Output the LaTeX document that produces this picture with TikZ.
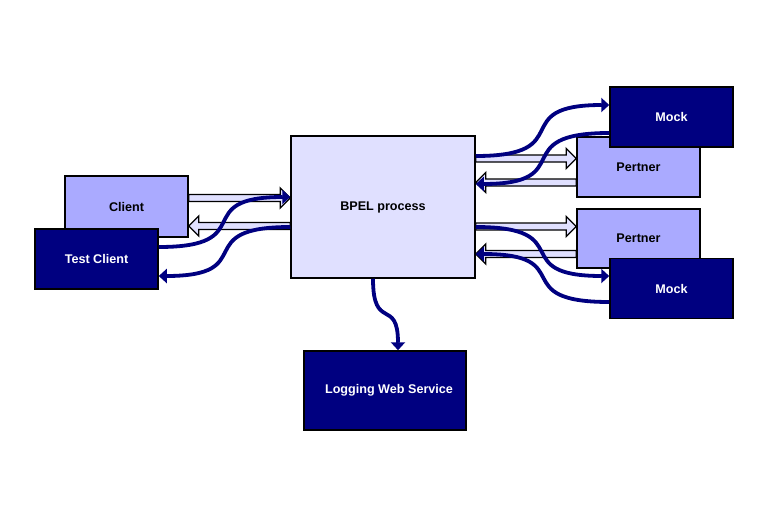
\documentclass[tikz,border=0pt]{standalone}
\usepackage{fontspec}
\setmainfont{Liberation Sans}
\usetikzlibrary{arrows.meta,calc}
\definecolor{navy}{RGB}{0,0,128}
\definecolor{lightbox}{RGB}{170,170,255}
\definecolor{paleb}{RGB}{224,224,255}
\tikzset{
 box/.style={draw=black, line width=1.5pt, inner sep=0pt, font=\bfseries\fontsize{12.6}{14}\selectfont},
 lbox/.style={box, fill=lightbox, text=black},
 dbox/.style={box, fill=navy, text=white},
 hollow/.style={draw=black, fill=paleb, line width=1.3pt, line join=miter},
 bluearr/.style={draw=navy, line width=3.8pt, -{Triangle[length=8pt,width=14pt]}},
}
\newcommand{\hollowarr}[2]{%
  \filldraw[hollow] let \p1=(#1), \p2=(#2), \n1={ifthenelse(\x2>\x1,1,-1)} in
   ({\x1},{\y1+3.5pt}) -- ({\x2-(\n1)*10pt},{\y1+3.5pt}) -- ({\x2-(\n1)*10pt},{\y1+10pt})
   -- ({\x2},{\y1}) -- ({\x2-(\n1)*10pt},{\y1-10pt}) -- ({\x2-(\n1)*10pt},{\y1-3.5pt})
   -- ({\x1},{\y1-3.5pt}) -- cycle;}
\newcommand{\hcurve}[2]{%
  \draw[bluearr] let \p1=(#1), \p2=(#2) in (\p1) .. controls ({0.22*\x1+0.78*\x2},{\y1}) and ({0.78*\x1+0.22*\x2},{\y2}) .. (\p2);}
\newcommand{\vcurve}[2]{%
  \draw[bluearr] let \p1=(#1), \p2=(#2) in (\p1) .. controls ({\x1},{0.25*\y1+0.75*\y2}) and ({\x2},{0.75*\y1+0.25*\y2}) .. (\p2);}
\begin{document}
\begin{tikzpicture}[x=1pt,y=-1pt]
\fill[white] (0,0) rectangle (768,517);
\useasboundingbox (0,0) rectangle (768,517);
% boxes
\node[lbox, minimum width=123pt, minimum height=61pt] (client) at (126.5,206.5) {Client};
\node[dbox, minimum width=123pt, minimum height=60pt] (tc) at (96.5,259) {Test Client};
\node[box, fill=paleb, minimum width=184pt, minimum height=142pt] (bpel) at (383,207) {BPEL process};
\node[lbox, minimum width=123pt, minimum height=60pt] (pert1) at (638.5,167) {Pertner};
\node[dbox, minimum width=123pt, minimum height=60pt] (mock1) at (671.5,117) {Mock};
\node[lbox, minimum width=123pt, minimum height=59pt] (pert2) at (638.5,238.5) {Pertner};
\node[dbox, minimum width=123pt, minimum height=60pt] (mock2) at (671.5,288.5) {Mock};
\node[dbox, minimum width=162pt, minimum height=79pt] (log) at (385,390.5) {\hspace*{8pt}Logging Web Service};
% hollow arrows
\hollowarr{client.east |- 0,198}{bpel.west |- 0,198}
\hollowarr{bpel.west |- 0,226}{client.east |- 0,226}
\hollowarr{bpel.east |- 0,158.5}{pert1.west |- 0,158.5}
\hollowarr{pert1.west |- 0,182.5}{bpel.east |- 0,182.5}
\hollowarr{bpel.east |- 0,226.5}{pert2.west |- 0,226.5}
\hollowarr{pert2.west |- 0,254}{bpel.east |- 0,254}
% blue curves
\hcurve{tc.east |- 0,247}{bpel.west |- 0,197}
\hcurve{bpel.west |- 0,227}{tc.east |- 0,276}
\hcurve{bpel.east |- 0,156}{mock1.west |- 0,105}
\hcurve{mock1.west |- 0,133}{bpel.east |- 0,184}
\hcurve{bpel.east |- 0,227}{mock2.west |- 0,276}
\hcurve{mock2.west |- 0,302}{bpel.east |- 0,254}
\vcurve{bpel.south -| 373,0}{log.north -| 398,0}
\end{tikzpicture}
\end{document}
